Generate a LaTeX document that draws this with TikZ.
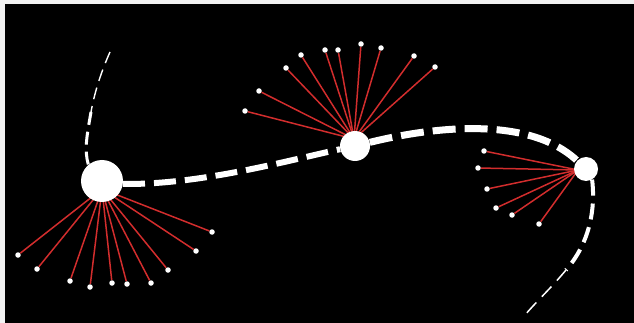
\documentclass[tikz,border=0pt]{standalone}
\begin{document}
\begin{tikzpicture}[x=1pt,y=-1pt,
  hub/.style={circle,fill=white,draw=none,inner sep=0pt},
  tipdot/.style={circle,fill=white,draw=none,inner sep=0pt,minimum size=5.5pt},
  spoke/.style={draw={rgb,255:red,210;green,45;blue,45},line width=1.5pt},
  track/.style={draw=white,line cap=butt}]
\useasboundingbox (0,0) rectangle (634,323);
\fill[white!90!gray] (0,0) rectangle (634,323);
\fill[black] (5,4) rectangle (634,323);
% hub convergence points
\coordinate (ha) at (102,189);
\coordinate (hb) at (354,139);
\coordinate (hc) at (578,170);
% dots of A
\foreach \n/\x/\y in {a1/18/255,a2/37/269,a3/70/281,a4/90/287,a5/112/283,a6/127/284,a7/151/283,a8/168/270,a9/196/251,a10/212/232}{
  \node[tipdot] (\n) at (\x,\y) {};
  \draw[spoke] (ha) -- (\n);
}
% dots of B
\foreach \n/\x/\y in {b1/245/111,b2/259/91,b3/286/68,b4/301/55,b5/325/50,b6/338/50,b7/361/44,b8/381/48,b9/414/56,b10/435/67}{
  \node[tipdot] (\n) at (\x,\y) {};
  \draw[spoke] (hb) -- (\n);
}
% dots of C
\foreach \n/\x/\y in {c1/484/151,c2/478/168,c3/487/189,c4/496/208,c5/512/215,c6/539/224}{
  \node[tipdot] (\n) at (\x,\y) {};
  \draw[spoke] (hc) -- (\n);
}
% hubs
\node[hub,minimum size=42pt] (A) at (102,181) {};
\node[hub,minimum size=30pt] (B) at (355,146) {};
\node[hub,minimum size=24pt] (C) at (586,169) {};
% free ends
\coordinate (top) at (110,52);
\coordinate (mid1) at (91,112);
\coordinate (mid2) at (566,270);
\coordinate (bot) at (525,315);
% tracks
\draw[track,line width=1.4pt,dash pattern=on 12pt off 7pt] (top) .. controls (102,70) and (95,90) .. (mid1);
\draw[track,line width=3pt,dash pattern=on 13pt off 7pt] (mid1) .. controls (87,135) and (84,150) .. (A.130);
\draw[track,line width=6pt,dash pattern=on 22pt off 9pt] (A.-8) .. controls (200,185) and (290,160) .. (B);
\draw[track,line width=7pt,dash pattern=on 23pt off 9pt] (B) .. controls (420,130) and (525,112) .. (C);
\draw[track,line width=4pt,dash pattern=on 16pt off 8pt] (C.-60) .. controls (596,212) and (588,245) .. (mid2);
\draw[track,line width=1.5pt,dash pattern=on 14pt off 8pt] (mid2) .. controls (552,287) and (536,302) .. (bot);
\end{tikzpicture}
\end{document}
